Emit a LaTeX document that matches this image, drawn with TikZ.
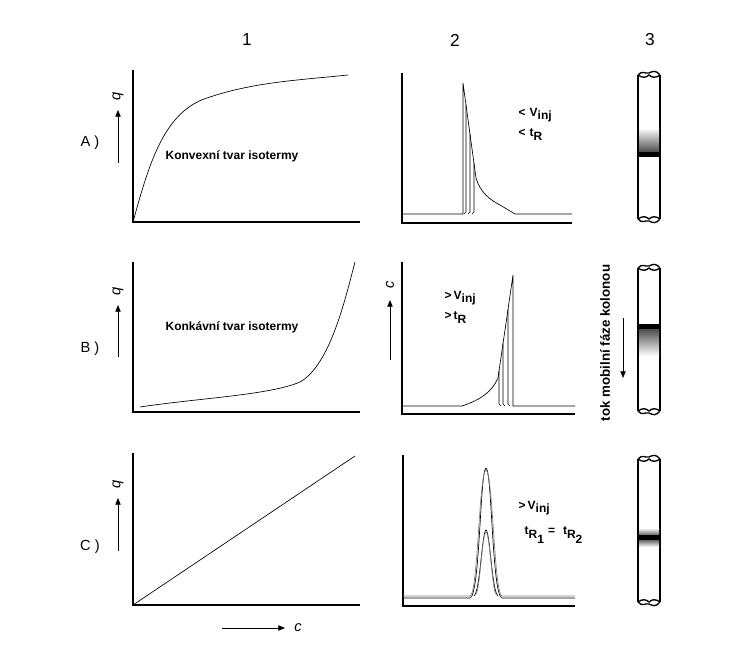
\documentclass[tikz,border=0pt]{standalone}
\usepackage{fontspec}
\setmainfont{Liberation Sans}
\usetikzlibrary{arrows.meta}
\begin{document}
\begin{tikzpicture}[x=0.75pt,y=-0.75pt,
  ax/.style={line width=0.9pt},
  crv/.style={line width=0.5pt},
  lab/.style={font=\fontsize{9}{10}\selectfont\bfseries},
  head/.style={font=\fontsize{13}{14}\selectfont},
  rowl/.style={font=\fontsize{11}{12}\selectfont},
  arr/.style={-{Triangle[length=5pt,width=4pt]},line width=0.6pt},
  tube/.style={line width=1pt}]
\useasboundingbox (0,0) rectangle (756,663);
\node[head] (h1) at (247,40) {1};
\node[head] (h2) at (455,40) {2};
\node[head] (h3) at (650,40) {3};
% row labels
\node[rowl] (ra) at (90,143) {A )};
\node[rowl] (rb) at (90,349) {B )};
\node[rowl] (rc) at (90,547) {C )};
% q arrows
\foreach \n/\a/\b in {A/163/110,B/357/305,C/551/498}{
  \coordinate (qs\n) at (118,\a); \coordinate (qe\n) at (118,\b);
  \draw[arr] (qs\n) -- (qe\n);
  \node[rotate=90,font=\fontsize{11}{12}\selectfont\itshape] (q\n) at (118,\b-14) {q};
}
% column 1 axes
\draw[ax] (133,70) -- (133,222) -- (360,222);
\draw[ax] (133,262) -- (133,412) -- (360,412);
\draw[ax] (133,453) -- (133,605) -- (360,605);
\draw[crv] (133,222) .. controls (150,160) and (165,110) .. (210,97) .. controls (255,82) and (300,80) .. (348,75);
\node[lab] (ka) at (232,156) {Konvexní tvar isotermy};
\draw[crv] (140,407) .. controls (200,398) and (270,395) .. (300,382) .. controls (330,365) and (345,300) .. (355,262);
\node[lab] (kb) at (232,327) {Konkávní tvar isotermy};
\draw[crv] (133,605) -- (355,456);
\coordinate (cs) at (222,628); \coordinate (ce) at (285,628);
\draw[arr] (cs) -- (ce);
\node[font=\fontsize{11}{12}\selectfont\itshape] (cl) at (298,628) {c};
% column 2 A
\draw[ax] (402,73) -- (402,223) -- (572,223);
\draw[crv] (402,214) -- (463,214) -- (463,83) -- (476,178) .. controls (480,192) and (490,200) .. (500,205) -- (515,214) -- (572,214);
\foreach \x in {466,470,474}{
  \pgfmathsetmacro{\yy}{83+(\x-463)*95/13}
  \draw[crv] (\x-2,214) -- (\x,212) -- (\x,\yy);
}
\node[lab,anchor=west] (va) at (514,115) {<\,\,V\raisebox{-2pt}{inj}};
\node[lab,anchor=west] (ta) at (514,135) {<\,\,t\raisebox{-3pt}{R}};
% column 2 B
\draw[ax] (402,262) -- (402,414) -- (575,414);
\draw[crv] (402,406) -- (462,406) .. controls (480,400) and (492,392) .. (498,378) -- (513,275) -- (513,406) -- (575,406);
\foreach \x in {499,503,508}{
  \pgfmathsetmacro{\yy}{378-(\x-498)*103/15}
  \draw[crv] (\x,\yy) -- (\x,404) -- (\x+2,406);
}
\coordinate (cbs) at (390,360); \coordinate (cbe) at (390,300);
\draw[arr] (cbs) -- (cbe);
\node[rotate=90,font=\fontsize{11}{12}\selectfont\itshape] (cb) at (390,285) {c};
\node[lab,anchor=west] (vb) at (440,298) {>\,V\raisebox{-2pt}{inj}};
\node[lab,anchor=west] (tb) at (440,318) {>\,t\raisebox{-3pt}{R}};
% column 2 C
\draw[ax] (403,455) -- (403,606) -- (575,606);
\draw[crv] (403,598) -- (470,598) .. controls (480,596) and (480,470) .. (486,468) .. controls (492,470) and (492,596) .. (502,598) -- (575,598);
\draw[crv,gray] (403,596) -- (470,596) .. controls (478,594) and (479,472) .. (486,470) .. controls (493,472) and (494,594) .. (502,596) -- (575,596);
\draw[crv] (474,596) .. controls (480,592) and (482,532) .. (486,530) .. controls (490,532) and (492,592) .. (498,596);
\draw[crv,gray] (476,594) .. controls (480,590) and (482,534) .. (486,532) .. controls (490,534) and (492,590) .. (496,594);
\node[lab,anchor=west] (vc) at (514,508) {>\,V\raisebox{-2pt}{inj}};
\node[lab,anchor=west] (tc) at (520,535) {t\raisebox{-3pt}{R}\raisebox{-7pt}{1}\,\,=\,\,\,\,t\raisebox{-3pt}{R}\raisebox{-7pt}{2}};
% column 3 tubes
\foreach \n/\t/\b in {A/72/222,B/265/414,C/456/605}{
  \fill[white] (638,\t) rectangle (660,\b);
  \draw[tube] (638,\t+3) -- (638,\b-3);
  \draw[tube] (660,\t+3) -- (660,\b-3);
  \draw[tube] (638,\t+3) .. controls (642,\t-2) and (645,\t+2) .. (649,\t+1) .. controls (653,\t-1) and (656,\t-2) .. (660,\t+3);
  \draw[tube] (638,\t+3) .. controls (642,\t+6) and (646,\t+6) .. (649,\t+3) .. controls (652,\t+6) and (656,\t+6) .. (660,\t+3);
  \draw[tube] (638,\b-3) .. controls (642,\b+2) and (645,\b-2) .. (649,\b-1) .. controls (653,\b+1) and (656,\b+2) .. (660,\b-3);
  \draw[tube] (638,\b-3) .. controls (642,\b-6) and (646,\b-6) .. (649,\b-3) .. controls (652,\b-6) and (656,\b-6) .. (660,\b-3);
}
\shade[top color=white,bottom color=black!70] (639,128) rectangle (659,152);
\fill[black] (639,152) rectangle (659,157);
\fill[black] (639,324) rectangle (659,329);
\shade[top color=black!70,bottom color=white] (639,329) rectangle (659,356);
\shade[top color=white,bottom color=black!60] (639,528) rectangle (659,535);
\fill[black] (639,535) rectangle (659,540);
\shade[top color=black!60,bottom color=white] (639,540) rectangle (659,547);
\node[rotate=90,lab,font=\fontsize{10}{11}\selectfont\bfseries] (tok) at (605,343) {tok mobilní fáze kolonou};
\coordinate (ts) at (623,318); \coordinate (te) at (623,378);
\draw[arr] (ts) -- (te);
\end{tikzpicture}
\end{document}
